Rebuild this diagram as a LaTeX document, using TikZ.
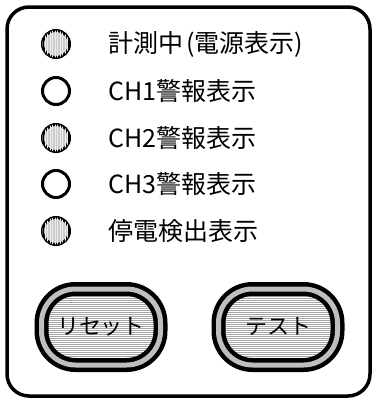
\documentclass[tikz,border=0pt]{standalone}
\usepackage{fontspec}
\setmainfont{Noto Sans CJK JP}
\usepackage{tikz}
\usetikzlibrary{positioning,patterns.meta}

\begin{document}
\begin{tikzpicture}[
        x=1pt, y=-1pt,
        node distance=36pt,
        panel/.style={rectangle, draw, line width=3.5pt, rounded corners=22pt, minimum width=363pt, minimum height=389pt},
        led/.style={circle, draw, line width=3pt, minimum size=27pt, inner sep=0pt},
        ledon/.style={led, fill=gray!40, postaction={pattern={Lines[angle=90,distance=2.5pt,line width=0.7pt]}, pattern color=gray!15}},
        ledoff/.style={led, fill=white},
        caption/.style={inner sep=1pt, font=\fontsize{25}{25}\selectfont},
        button/.style={rectangle, draw, rounded corners=34pt, line width=4.5pt, double=gray!50, double distance=5pt, minimum width=119pt, minimum height=76pt, inner sep=0pt, pattern={Lines[angle=0,distance=2pt,line width=0.6pt]}, pattern color=gray!70, font=\fontsize{22}{22}\selectfont}
    ]
        \useasboundingbox (0,0) rectangle (373,400);
        \node[panel] (panel) at (188.5,201.5) {};
        \node[ledon] (led1) at (56,44) {};
        \node[ledoff] (led2) at (56,91) {};
        \node[ledon] (led3) at (56,138) {};
        \node[ledoff] (led4) at (56,184) {};
        \node[ledon] (led5) at (56,231) {};
        \node[caption, right=of led1] (txt1) {計測中\kern3pt(電源表示)};
        \node[caption, right=of led2] (txt2) {CH1警報表示};
        \node[caption, right=of led3] (txt3) {CH2警報表示};
        \node[caption, right=of led4] (txt4) {CH3警報表示};
        \node[caption, right=of led5] (txt5) {停電検出表示};
        \node[button] (reset) at (101,327) {リセット};
        \node[button] (test) at (278,327) {テスト};
    \end{tikzpicture}
\end{document}
